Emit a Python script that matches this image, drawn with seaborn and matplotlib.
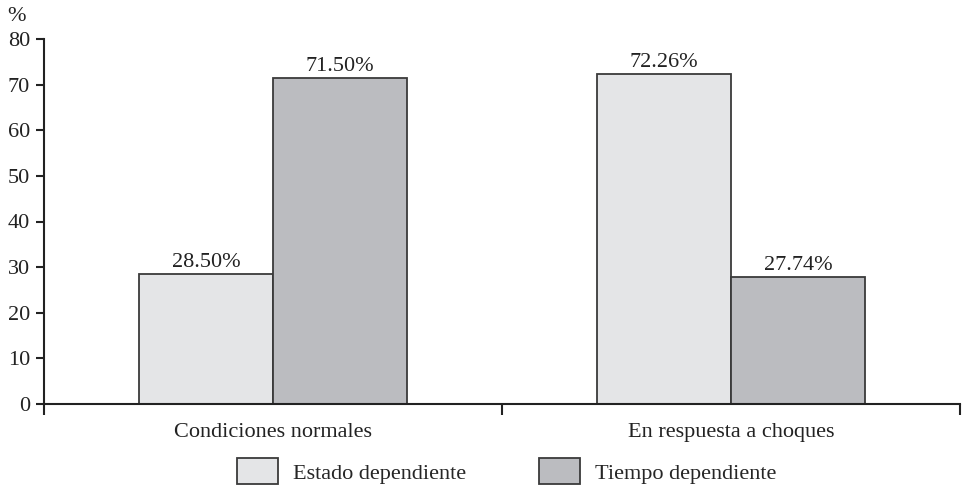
import matplotlib
matplotlib.use("Agg")
import matplotlib.pyplot as plt
import seaborn as sns
import pandas as pd
from matplotlib.patches import Patch
from matplotlib.ticker import FixedLocator

sns.set_theme(style="white")
plt.rcParams["font.family"] = ["Liberation Serif", "DejaVu Serif"]

categories = ["Condiciones normales", "En respuesta a choques"]
series = ["Estado dependiente", "Tiempo dependiente"]
estado = [28.50, 72.26]
tiempo = [71.50, 27.74]
yticks = [0, 10, 20, 30, 40, 50, 60, 70, 80]

df = pd.DataFrame({
    "categoria": categories * 2,
    "serie": [series[0]] * 2 + [series[1]] * 2,
    "valor": estado + tiempo,
})

colors = {series[0]: "#E4E5E7", series[1]: "#BBBCC0"}
edge = "#3a3a3a"
ink = "#222222"
fs = 16

fig = plt.figure(figsize=(9.65, 4.88), dpi=100)
ax = fig.add_axes([44 / 965, 84 / 488, 916 / 965, 365 / 488])

sns.barplot(data=df, x="categoria", y="valor", hue="serie", order=categories,
            hue_order=series, palette=colors, width=0.585, edgecolor=edge,
            linewidth=1.3, saturation=1, legend=False, ax=ax)

for cont in ax.containers:
    ax.bar_label(cont, labels=[f"{v:.2f}%" for v in cont.datavalues],
                 padding=1.5, fontsize=fs, color=ink)

ax.set_xlim(-0.5, 1.5)
ax.set_ylim(0, 80)
ax.set_yticks(yticks)
ax.set_xlabel("")
ax.set_ylabel("")

for s in ["top", "right"]:
    ax.spines[s].set_visible(False)
for s in ["left", "bottom"]:
    ax.spines[s].set_color(ink)
    ax.spines[s].set_linewidth(1.5)

ax.tick_params(axis="y", left=True, direction="out", length=6, width=1.5,
               color=ink, labelsize=fs, labelcolor=ink, pad=4)
ax.tick_params(axis="x", which="major", bottom=False, length=0, labelsize=fs,
               labelcolor=ink, pad=14)
ax.xaxis.set_minor_locator(FixedLocator([-0.5, 0.5, 1.5]))
ax.tick_params(axis="x", which="minor", bottom=True, direction="out",
               length=8, width=1.5, color=ink)

ax.text(-0.04, 1.035, "%", transform=ax.transAxes, fontsize=fs,
        color=ink, ha="left", va="bottom")

handles = [Patch(facecolor=colors[s], edgecolor=edge, linewidth=1.3) for s in series]
fig.legend(handles, series, loc="lower center", bbox_to_anchor=(0.525, -0.033),
           ncol=2, frameon=False, fontsize=fs, handlelength=1.85,
           handleheight=1.4, handletextpad=0.65, columnspacing=3.3)

fig.savefig("out.png", dpi=100)
